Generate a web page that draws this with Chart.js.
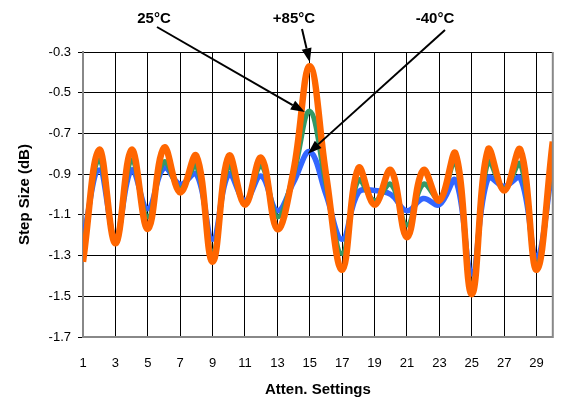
<!DOCTYPE html>
<html>
<head>
<meta charset="utf-8">
<script src="https://cdn.jsdelivr.net/npm/chart.js@4.4.1/dist/chart.umd.min.js"></script>
<style>
  html, body { margin: 0; padding: 0; background: #fff; }
  #wrap { width: 563px; height: 402px; }
</style>
</head>
<body>
<div id="wrap"><canvas id="chart"></canvas></div>
<script>
// Step size vs attenuation setting, three temperatures
const settings = [1, 2, 3, 4, 5, 6, 7, 8, 9, 10, 11, 12, 13, 14, 15, 16, 17, 18, 19, 20, 21, 22, 23, 24, 25, 26, 27, 28, 29, 30];
const stepHot = [-1.33, -0.78, -1.24, -0.78, -1.17, -0.77, -0.99, -0.81, -1.33, -0.81,
                 -1.05, -0.82, -1.17, -0.88, -0.37, -0.90, -1.37, -0.87, -1.05, -0.88,
                 -1.21, -0.88, -1.03, -0.80, -1.49, -0.78, -0.98, -0.78, -1.37, -0.74];
const stepRoom = [-1.28, -0.83, -1.23, -0.83, -1.11, -0.84, -0.97, -0.86, -1.28, -0.86,
                  -1.04, -0.86, -1.11, -0.90, -0.59, -0.95, -1.29, -0.93, -1.03, -0.95,
                  -1.15, -0.95, -1.02, -0.84, -1.44, -0.84, -0.97, -0.85, -1.35, -0.80];
const stepCold = [-1.22, -0.88, -1.21, -0.88, -1.07, -0.87, -0.95, -0.90, -1.22, -0.90,
                  -1.03, -0.91, -1.08, -0.94, -0.79, -1.00, -1.22, -0.99, -0.98, -1.00,
                  -1.08, -1.02, -1.05, -0.93, -1.39, -0.92, -0.96, -0.92, -1.31, -0.86];
const xTicks = [1, 3, 5, 7, 9, 11, 13, 15, 17, 19, 21, 23, 25, 27, 29];
const yTicks = [-1.7, -1.5, -1.3, -1.1, -0.9, -0.7, -0.5, -0.3];

const FONT = "'Liberation Sans', Arial, sans-serif";

function series(label, values, color, width) {
  return {
    label: label,
    data: settings.map((s, i) => ({ x: s, y: values[i] })),
    borderColor: color,
    borderWidth: width,
    pointRadius: 0,
    tension: 0.4,
    fill: false
  };
}

// callouts pointing at the peak of each curve at setting 15
const callouts = [
  { text: '25°C', tx: 154, ty: 19, fx: 157, fy: 27, ds: 1, idx: 14, dx: -5, dy: 1 },
  { text: '+85°C', tx: 294, ty: 19, fx: 302, fy: 29, ds: 0, idx: 14, dx: 0, dy: -4 },
  { text: '-40°C', tx: 435, ty: 19, fx: 445, fy: 30, ds: 2, idx: 14, dx: -2, dy: 2 }
];

const extras = {
  id: 'extras',
  afterDraw(chart) {
    const ctx = chart.ctx;
    const area = chart.chartArea;
    const xs = chart.scales.x, ys = chart.scales.y;
    ctx.save();
    // right frame edge
    ctx.strokeStyle = '#888';
    ctx.lineWidth = 2;
    ctx.beginPath();
    ctx.moveTo(area.right, area.top);
    ctx.lineTo(area.right, area.bottom + 1);
    ctx.stroke();

    ctx.font = 'bold 15px ' + FONT;
    ctx.fillStyle = '#000';
    ctx.textAlign = 'center';
    ctx.textBaseline = 'middle';
    callouts.forEach(c => {
      ctx.fillText(c.text, c.tx, c.ty);
      const pt = chart.data.datasets[c.ds].data[c.idx];
      const tipX = xs.getPixelForValue(pt.x) + c.dx;
      const tipY = ys.getPixelForValue(pt.y) + c.dy;
      const ang = Math.atan2(tipY - c.fy, tipX - c.fx);
      const len = 14, half = 5;
      const baseX = tipX - len * Math.cos(ang);
      const baseY = tipY - len * Math.sin(ang);
      ctx.strokeStyle = '#000';
      ctx.lineWidth = 2;
      ctx.beginPath();
      ctx.moveTo(c.fx, c.fy);
      ctx.lineTo(baseX, baseY);
      ctx.stroke();
      ctx.beginPath();
      ctx.moveTo(tipX, tipY);
      ctx.lineTo(baseX + half * Math.sin(ang), baseY - half * Math.cos(ang));
      ctx.lineTo(baseX - half * Math.sin(ang), baseY + half * Math.cos(ang));
      ctx.closePath();
      ctx.fill();
    });
    ctx.restore();
  }
};

new Chart(document.getElementById('chart'), {
  type: 'line',
  data: {
    datasets: [
      series('+85°C', stepHot, '#ff6600', 6.5),
      series('25°C', stepRoom, '#339966', 5),
      series('-40°C', stepCold, '#3366ff', 5.5)
    ]
  },
  options: {
    responsive: true,
    maintainAspectRatio: false,
    animation: false,
    layout: { padding: { top: 52, right: 5, left: 0, bottom: 0 } },
    plugins: {
      legend: { display: false },
      tooltip: { enabled: false }
    },
    scales: {
      x: {
        type: 'linear',
        min: 1,
        max: 30,
        afterBuildTicks: s => { s.ticks = xTicks.map(v => ({ value: v })); },
        afterFit: s => { s.height = 65; },
        grid: { color: '#000', lineWidth: 1, drawTicks: false },
        border: { color: '#888', width: 2 },
        ticks: { color: '#000', font: { family: FONT, size: 13 }, padding: 19, maxRotation: 0 },
        title: {
          display: true,
          text: 'Atten. Settings',
          color: '#000',
          font: { family: FONT, size: 15, weight: 'bold' },
          padding: { top: 0, bottom: 3 }
        }
      },
      y: {
        min: -1.7,
        max: -0.3,
        afterBuildTicks: s => { s.ticks = yTicks.map(v => ({ value: v })); },
        afterFit: s => { s.width = 83; },
        grid: { color: '#000', lineWidth: 1, tickLength: 5, tickColor: '#000' },
        border: { color: '#888', width: 2 },
        ticks: {
          color: '#000',
          font: { family: FONT, size: 13 },
          padding: 7,
          callback: v => v.toFixed(1)
        },
        title: {
          display: true,
          text: 'Step Size (dB)',
          color: '#000',
          font: { family: FONT, size: 15, weight: 'bold' },
          padding: { top: 16, bottom: 0 }
        }
      }
    }
  },
  plugins: [extras]
});
</script>
</body>
</html>
